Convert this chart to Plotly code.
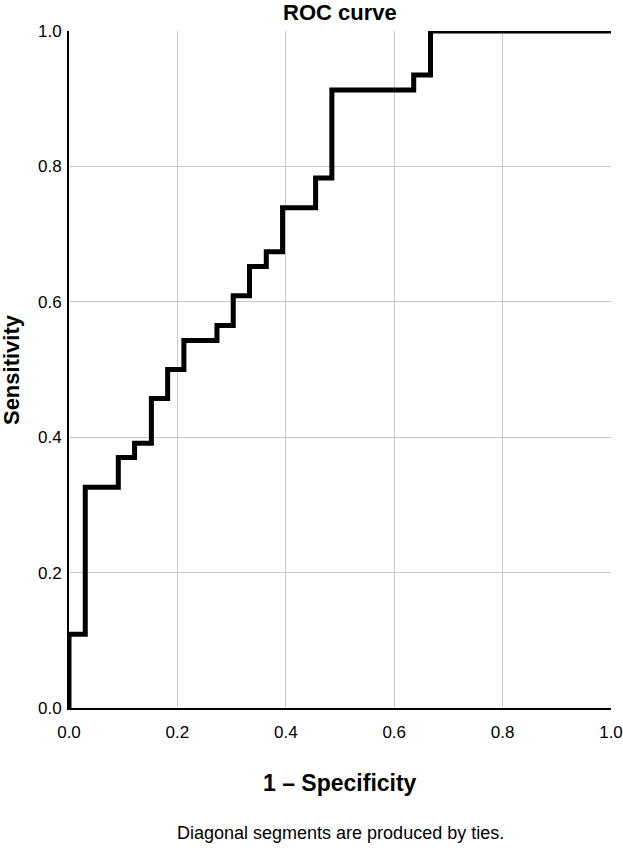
import plotly.graph_objects as go

# ROC step points (1 - specificity, sensitivity)
fpr = [0, 0.030, 0.091, 0.121, 0.152, 0.182, 0.212, 0.273, 0.303, 0.333,
       0.364, 0.394, 0.455, 0.485, 0.636, 0.667, 1.0]
tpr = [0, 0.109, 0.326, 0.370, 0.391, 0.457, 0.500, 0.543, 0.565, 0.609,
       0.652, 0.674, 0.739, 0.783, 0.913, 0.935, 1.0]
tick_vals = [0.0, 0.2, 0.4, 0.6, 0.8, 1.0]

FONT = "Liberation Sans, Arial, sans-serif"

fig = go.Figure()
fig.add_trace(go.Scatter(
    x=fpr, y=tpr, mode="lines", line=dict(color="black", width=5, shape="vh"),
    showlegend=False, cliponaxis=False, hoverinfo="skip",
))

axis_common = dict(
    range=[0, 1], tickvals=tick_vals, tickformat=".1f",
    showgrid=True, gridcolor="#c8c8c8", gridwidth=1,
    showline=True, linecolor="black", linewidth=2,
    zeroline=False, ticks="", automargin=False,
    tickfont=dict(family=FONT, size=17, color="black"),
)

fig.update_layout(
    width=623, height=848,
    margin=dict(l=69, r=12, t=31, b=140, autoexpand=False),
    paper_bgcolor="white", plot_bgcolor="white",
    font=dict(family=FONT, color="black"),
    xaxis=dict(**axis_common, ticklabelstandoff=8),
    yaxis=dict(**axis_common, ticklabelstandoff=2),
    annotations=[
        dict(text="<b>ROC curve</b>", showarrow=False, xref="paper", yref="paper",
             x=0.5, y=1.0275, xanchor="center", yanchor="middle",
             font=dict(family=FONT, size=22)),
        dict(text="<b>Sensitivity</b>", showarrow=False, xref="paper", yref="paper",
             x=-0.106, y=0.5, xanchor="center", yanchor="middle", textangle=-90,
             font=dict(family=FONT, size=22)),
        dict(text="<b>1 – Specificity</b>", showarrow=False, xref="paper", yref="paper",
             x=0.5, y=-0.1108, xanchor="center", yanchor="middle",
             font=dict(family=FONT, size=23)),
        dict(text="Diagonal segments are produced by ties.", showarrow=False,
             xref="paper", yref="paper", x=0.5, y=-0.1846, xanchor="center", yanchor="middle",
             font=dict(family=FONT, size=18)),
    ],
)

fig.write_html("out.html", config={"displayModeBar": False},
               post_script="document.body.style.margin='0';")
